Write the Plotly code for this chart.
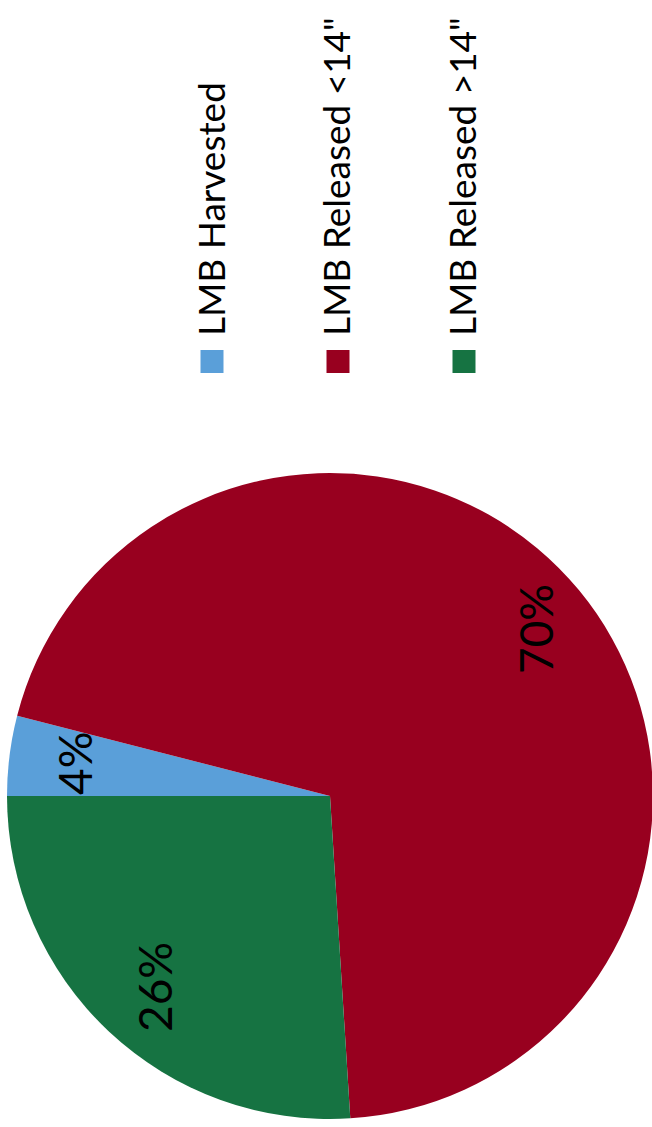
import math
import plotly.graph_objects as go

# ---- data ----
categories = ["LMB Harvested", "LMB Released <14\"", "LMB Released >14\""]
values = [4, 70, 26]
colors = ["#5A9FD9", "#98001F", "#167342"]

# Chart is laid out in its natural (landscape) orientation, then the page
# rotates it -90deg, as in the reference scan.
W, H = 1127, 660
FONT = "Lato"
dom_x = [8 / W, 654 / W]
dom_y = [7 / H, 653 / H]

fig = go.Figure()
fig.add_trace(go.Pie(
    labels=categories,
    values=values,
    marker=dict(colors=colors, line=dict(width=0)),
    sort=False,
    direction="clockwise",
    rotation=0,
    textinfo="none",
    domain=dict(x=dom_x, y=dom_y),
    showlegend=False,
    hoverinfo="skip",
))

# percentage labels placed along each slice's bisector (Excel-style, near the rim)
cx = (dom_x[0] + dom_x[1]) / 2 * W
cy = (dom_y[0] + dom_y[1]) / 2 * H
r = min((dom_x[1] - dom_x[0]) * W, (dom_y[1] - dom_y[0]) * H) / 2
total = sum(values)
cum = 0
for v in values:
    mid = (cum + v / 2) / total * 2 * math.pi
    cum += v
    px = cx + 0.81 * r * math.sin(mid)
    py = cy + 0.81 * r * math.cos(mid)
    fig.add_annotation(xref="paper", yref="paper", x=px / W, y=(py - 4) / H,
                       xanchor="center", yanchor="middle", showarrow=False,
                       text=f"{round(100 * v / total)}%",
                       font=dict(family=FONT, size=46, color="#000000"))

# legend (manual, to match swatch size and spacing)
legend_y = [212, 338, 464]  # px from top (unrotated)
sq = 23
for cat, col, yc in zip(categories, colors, legend_y):
    fig.add_shape(type="rect", xref="paper", yref="paper",
                  x0=754 / W, x1=(754 + sq) / W,
                  y0=(H - yc - sq / 2) / H, y1=(H - yc + sq / 2) / H,
                  fillcolor=col, line=dict(width=0))
    fig.add_annotation(xref="paper", yref="paper", x=789 / W, y=(H - yc + 2) / H,
                       xanchor="left", yanchor="middle", showarrow=False,
                       text=cat, font=dict(family=FONT, size=37, color="#000000"))

fig.update_layout(
    width=W, height=H,
    margin=dict(l=0, r=0, t=0, b=0),
    paper_bgcolor="#FFFFFF", plot_bgcolor="#FFFFFF",
    showlegend=False,
)

post = """
var gd = document.getElementById('{plot_id}');
document.documentElement.style.overflow = 'hidden';
document.body.style.margin = '0';
document.body.style.overflow = 'hidden';
gd.style.position = 'absolute';
gd.style.left = '0px';
gd.style.top = '0px';
gd.style.transformOrigin = '0 0';
gd.style.transform = 'translate(0px, %dpx) rotate(-90deg)';
""" % W

fig.write_html("out.html", post_script=post, config={"displayModeBar": False})
